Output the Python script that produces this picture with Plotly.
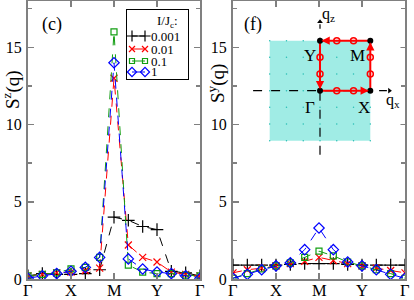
import plotly.graph_objects as go

# ---------------- data ----------------
k_index = list(range(13))
k_tickvals = [0, 3, 6, 9, 12]
k_ticklabels = ["Γ", "X", "M", "Y", "Γ"]

series_names = ["0.001", "0.01", "0.1", "1"]
legend_title = "I/J<sub>c</sub>:"

sz_0001 = [0.2, 0.35, 0.3, 0.3, 0.35, 0.6, 4.0, 3.8, 3.4, 3.2, 0.5, 0.4, 0.2]
sz_001 = [0.2, 0.3, 0.4, 0.45, 0.55, 0.7, 13.0, 2.2, 1.4, 1.1, 0.45, 0.3, 0.2]
sz_01 = [0.2, 0.3, 0.4, 0.65, 0.75, 1.4, 16.0, 0.9, 0.45, 0.35, 0.35, 0.25, 0.2]
sz_1 = [0.05, 0.2, 0.35, 0.5, 0.75, 1.4, 14.0, 1.3, 0.65, 0.45, 0.35, 0.2, 0.05]

sy_0001 = [0.9, 0.9, 0.9, 0.9, 0.95, 1.0, 1.0, 1.0, 0.95, 0.9, 0.9, 0.9, 0.9]
sy_001 = [0.4, 0.6, 0.7, 0.85, 1.0, 1.15, 1.4, 1.2, 1.0, 0.85, 0.7, 0.55, 0.4]
sy_01 = [0.05, 0.35, 0.65, 0.85, 1.05, 1.4, 1.8, 1.5, 1.1, 0.85, 0.6, 0.35, 0.05]
sy_1 = [0.05, 0.3, 0.6, 0.85, 1.05, 1.9, 3.3, 1.9, 1.1, 0.85, 0.6, 0.3, 0.05]

# inset: Brillouin zone path (q_x, q_z)
bz_x = [-1, 1, 1, -1, -1]
bz_z = [-1, -1, 1, 1, -1]
path_qx = [0, 1, 1, 0, 0]
path_qz = [0, 0, 1, 1, 0]
mid_qx = [1/3, 2/3, 1, 1, 2/3, 1/3, 0, 0]
mid_qz = [0, 0, 1/3, 2/3, 1, 1, 2/3, 1/3]
corner_qx = [0, 1, 1, 0]
corner_qz = [0, 0, 1, 1]
corner_labels = ["Γ", "X", "M", "Y"]
grid_vals = [-1, -2/3, -1/3, 0, 1/3, 2/3, 1]

# ---------------- styles ----------------
colors = ["black", "#ff0000", "#129e12", "#0000ff"]
symbols = ["cross-thin-open", "x-thin-open", "square-open", "diamond-open"]
msizes = [9, 7, 6, 8]
SERIF = "Liberation Serif"

W, H = 414, 300
ML, MR, MT, MB = 28, 9, 1, 21
PW, PH = W - ML - MR, H - MT - MB


def px2paper(px, py):
    return (px - ML) / PW, (H - MB - py) / PH


fig = go.Figure()

left = [sz_0001, sz_001, sz_01, sz_1]
right = [sy_0001, sy_001, sy_01, sy_1]
for panel, (xa, ya) in [(left, ("x", "y")), (right, ("x2", "y2"))]:
    for i in range(4):
        fig.add_trace(go.Scatter(
            x=k_index, y=panel[i], mode="lines+markers", name=series_names[i],
            line=dict(color=colors[i], width=1, dash="dash"),
            marker=dict(symbol=symbols[i], size=msizes[i], color=colors[i],
                        line=dict(color=colors[i], width=1.2)),
            xaxis=xa, yaxis=ya, showlegend=False))

# inset traces
fig.add_trace(go.Scatter(x=bz_x, y=bz_z, mode="lines", fill="toself",
                         fillcolor="rgb(160,236,229)", line=dict(width=0),
                         xaxis="x3", yaxis="y3", showlegend=False, hoverinfo="skip"))
gx, gy = [], []
for a in grid_vals:
    for b in grid_vals:
        gx.append(a)
        gy.append(b)
fig.add_trace(go.Scatter(x=gx, y=gy, mode="markers",
                         marker=dict(size=1.5, color="rgb(40,190,180)"),
                         xaxis="x3", yaxis="y3", showlegend=False, hoverinfo="skip"))
fig.add_trace(go.Scatter(x=[-1.33, 1.33], y=[0, 0], mode="lines",
                         line=dict(color="black", width=1.2, dash="dash"),
                         xaxis="x3", yaxis="y3", showlegend=False))
fig.add_trace(go.Scatter(x=[0, 0], y=[-1.28, 1.33], mode="lines",
                         line=dict(color="black", width=1.2, dash="dash"),
                         xaxis="x3", yaxis="y3", showlegend=False))
fig.add_trace(go.Scatter(x=[1.38, 0], y=[0, 1.38], mode="markers",
                         marker=dict(symbol=["triangle-right", "triangle-up"], size=5, color="black"),
                         xaxis="x3", yaxis="y3", showlegend=False))
fig.add_trace(go.Scatter(x=path_qx, y=path_qz, mode="lines",
                         line=dict(color="#ff0000", width=2),
                         xaxis="x3", yaxis="y3", showlegend=False))
fig.add_trace(go.Scatter(x=mid_qx, y=mid_qz, mode="markers",
                         marker=dict(symbol="circle-open", size=6, color="#ff0000",
                                     line=dict(width=1.5, color="#ff0000")),
                         xaxis="x3", yaxis="y3", showlegend=False))
fig.add_trace(go.Scatter(x=corner_qx, y=corner_qz, mode="markers",
                         marker=dict(symbol="circle", size=6, color="black"),
                         xaxis="x3", yaxis="y3", showlegend=False))

annotations = []
for (x0, y0, x1, y1) in [(0.8, 0, 0.97, 0), (1, 0.8, 1, 0.97), (0.2, 1, 0.03, 1), (0, 0.2, 0, 0.03)]:
    annotations.append(dict(x=x1, y=y1, ax=x0, ay=y0, xref="x3", yref="y3",
                            axref="x3", ayref="y3", text="", showarrow=True,
                            arrowhead=2, arrowsize=1.1, arrowwidth=1.5, arrowcolor="#ff0000"))
label_off = [(-0.2, -0.33), (-0.13, -0.33), (-0.26, -0.29), (-0.2, -0.29)]
for i in range(4):
    annotations.append(dict(x=corner_qx[i] + label_off[i][0], y=corner_qz[i] + label_off[i][1],
                            xref="x3", yref="y3", text=corner_labels[i], showarrow=False,
                            font=dict(family=SERIF, size=17, color="black")))
annotations.append(dict(x=0.17, y=1.52, xref="x3", yref="y3", text="q<sub>z</sub>",
                        showarrow=False, font=dict(family=SERIF, size=16, color="black")))
annotations.append(dict(x=1.45, y=-0.2, xref="x3", yref="y3", text="q<sub>x</sub>",
                        showarrow=False, font=dict(family=SERIF, size=16, color="black")))

for (txt, px, py, ang) in [("(c)", 52, 24, 0), ("(f)", 253, 24, 0),
                           ("S<sup>z</sup>(q)", 11, 90, -90), ("S<sup>y</sup>(q)", 216, 84, -90)]:
    xx, yy = px2paper(px, py)
    annotations.append(dict(x=xx, y=yy, xref="paper", yref="paper", text=txt, showarrow=False,
                            textangle=ang, xanchor="center", yanchor="middle",
                            font=dict(family=SERIF, size=19 if ang else 18, color="black")))

# x tick labels (k-path points) placed just under each axis
_, lab_y = px2paper(0, 290)
for xref in ["x", "x2"]:
    for v, t in zip(k_tickvals, k_ticklabels):
        annotations.append(dict(x=v, y=lab_y, xref=xref, yref="paper", text=t, showarrow=False,
                                xanchor="center", yanchor="middle",
                                font=dict(family=SERIF, size=16.5, color="black")))

# custom legend box (pixel-measured positions converted to paper coordinates)
LX0, LX1, LY0, LY1 = 127, 188, 10, 79
leg_rows = [36, 49, 61, 72]
for i in range(4):
    fig.add_trace(go.Scatter(x=[132, 145], y=[leg_rows[i]] * 2, mode="lines+markers",
                             line=dict(color=colors[i], width=1),
                             marker=dict(symbol=symbols[i], size=msizes[i] - 1, color=colors[i],
                                         line=dict(color=colors[i], width=1.2)),
                             xaxis="x4", yaxis="y4", showlegend=False, hoverinfo="skip"))
    tx, ty = px2paper(149, leg_rows[i])
    annotations.append(dict(x=tx, y=ty, xref="paper", yref="paper", text=series_names[i],
                            showarrow=False, xanchor="left", yanchor="middle",
                            font=dict(family=SERIF, size=13, color="black")))
tx, ty = px2paper(167, 22)
annotations.append(dict(x=tx, y=ty, xref="paper", yref="paper", text=legend_title, showarrow=False,
                        xanchor="center", yanchor="middle",
                        font=dict(family=SERIF, size=13, color="black")))

axis_common = dict(showline=True, linecolor="#808080", linewidth=2, mirror="ticks",
                   ticks="inside", tickcolor="#808080", ticklen=6, tickwidth=1.5,
                   showgrid=False, zeroline=False)
yaxis_common = dict(axis_common, range=[0, 18], tickvals=[0, 5, 10, 15],
                    ticktext=["0", "5", "10", "15"],
                    minor=dict(ticks="inside", tickvals=[2.5, 7.5, 12.5, 17.5], ticklen=4,
                               tickcolor="#808080", tickwidth=1.5),
                    tickfont=dict(family=SERIF, size=16, color="black"), ticklabelstandoff=1)
xaxis_common = dict(axis_common, range=[0, 12], tickvals=k_tickvals, showticklabels=False)

xd1 = (0, (200 - ML) / PW)
xd2 = ((233 - ML) / PW, 1)
ix0, _ = px2paper(320 - 1.6 * 50.3, 0)
ix1, _ = px2paper(320 + 1.6 * 50.3, 0)
_, iy0 = px2paper(0, 90.7 + 1.6 * 50)
_, iy1 = px2paper(0, 90.7 - 1.6 * 50)
lx0, _ = px2paper(LX0, 0)
lx1, _ = px2paper(LX1, 0)
_, ly0 = px2paper(0, LY1)
_, ly1 = px2paper(0, LY0)

fig.update_layout(
    width=W, height=H, autosize=False, margin=dict(l=ML, r=MR, t=MT, b=MB, autoexpand=False),
    paper_bgcolor="white", plot_bgcolor="white",
    xaxis=dict(xaxis_common, domain=xd1, anchor="y"),
    yaxis=dict(yaxis_common, domain=[0, 1], anchor="x"),
    xaxis2=dict(xaxis_common, domain=xd2, anchor="y2"),
    yaxis2=dict(yaxis_common, domain=[0, 1], anchor="x2"),
    xaxis3=dict(domain=[ix0, ix1], range=[-1.6, 1.6], visible=False, anchor="y3", fixedrange=True),
    yaxis3=dict(domain=[iy0, iy1], range=[-1.6, 1.6], visible=False, anchor="x3", fixedrange=True),
    xaxis4=dict(domain=[lx0, lx1], range=[LX0, LX1], anchor="y4", showline=True, mirror=True,
                linecolor="black", linewidth=1, ticks="", showticklabels=False,
                showgrid=False, zeroline=False, fixedrange=True),
    yaxis4=dict(domain=[ly0, ly1], range=[LY1, LY0], autorange=False, anchor="x4", showline=True,
                mirror=True, linecolor="black", linewidth=1, ticks="", showticklabels=False,
                showgrid=False, zeroline=False, fixedrange=True),
    annotations=annotations,
    showlegend=False,
)
fig.add_shape(type="rect", xref="x4", yref="y4", x0=LX0, x1=LX1, y0=LY0, y1=LY1,
              fillcolor="white", line=dict(width=0), layer="below")

fig.write_html("out.html",
               config={"responsive": False, "displayModeBar": False, "staticPlot": True},
               post_script="document.body.style.margin='0px';document.body.style.overflow='hidden';")
